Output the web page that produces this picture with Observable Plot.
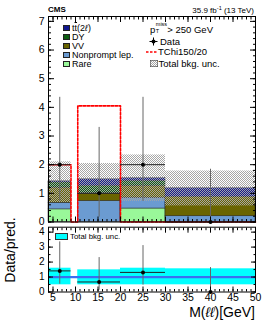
<!DOCTYPE html>
<html><head><meta charset="utf-8">
<script src="https://cdn.jsdelivr.net/npm/d3@7"></script>
<script src="https://cdn.jsdelivr.net/npm/@observablehq/plot@0.6"></script>
<style>
body{margin:0;background:#fff;font-family:"Liberation Sans",Arial,sans-serif;}
#wrap{position:relative;width:266px;height:322px;overflow:hidden;}
#toppanel,#botpanel{position:absolute;left:0;}
#toppanel{top:0px} #botpanel{top:224px}
.t{position:absolute;white-space:nowrap;color:#000;line-height:1;}
.sw{display:inline-block;width:7px;height:6px;border:0.6px solid #222;vertical-align:middle;margin-right:2px;box-sizing:border-box;}
.row{position:absolute;white-space:nowrap;font-size:9px;line-height:1;display:flex;align-items:center;height:9px;}
</style></head><body>
<div id="wrap"><div id="toppanel"></div><div id="botpanel"></div></div>
<script>
// ---- data ----
const binLo = [4, 10.5, 20, 30];
const binHi = [9, 20, 30, 50];
const processes = ["Rare", "Nonprompt lep.", "VV", "DY", "tt(2l)"];
const colors = ["#99f899", "#6b9bd1", "#6a6500", "#0d5e12", "#10178f"];
const rare      = [0.44, 0.00, 0.47, 0.00];
const nonprompt = [0.23, 0.73, 0.38, 0.20];
const vv        = [0.53, 0.27, 0.41, 0.68];
const dy        = [0.18, 0.26, 0.17, 0.00];
const ttbar     = [0.04, 0.23, 0.10, 0.30];
const bkgUncLo  = [0.68, 0.97, 0.72, 0.56];
const bkgUncHi  = [2.10, 2.04, 2.34, 1.78];
const signal    = [2.00, 4.05, 0.00, 0.00];
const dataY     = [2, 1, 2, 0];
const dataLo    = [0.72, 0.17, 0.72, 0.00];
const dataHi    = [4.35, 3.30, 4.35, 1.84];
const ratio     = [1.41, 0.67, 1.31, 0.00];
const ratioLo   = [0.52, 0.12, 0.46, 0.00];
const ratioHi   = [3.35, 2.30, 3.10, 1.63];
const rUncLo    = [0.48, 0.48, 0.48, 0.48];
const rUncHi    = [1.59, 1.48, 1.59, 1.55];
const xTicks    = d3.range(5, 51, 5);
const xMinor    = d3.range(4, 51, 1);
const yTicksTop = d3.range(0, 8, 1);
const yMinorTop = d3.range(0, 7.2, 0.2);
const yTicksBot = d3.range(0, 5, 1);
const yMinorBot = d3.range(0, 4.4, 0.5);

(function () {
// ---- derived tables ----
const series = [rare, nonprompt, vv, dy, ttbar];
const stackRows = [];
binLo.forEach((lo, i) => {
  let acc = 0;
  processes.forEach((p, j) => {
    const v = series[j][i];
    stackRows.push({proc: p, x1: lo, x2: binHi[i], y1: acc, y2: acc + v});
    acc += v;
  });
});
const bins = binLo.map((lo, i) => ({
  x1: lo, x2: binHi[i], xc: (lo + binHi[i]) / 2,
  ulo: bkgUncLo[i], uhi: bkgUncHi[i],
  y: dataY[i], lo: dataLo[i], hi: dataHi[i],
  r: ratio[i], rlo: ratioLo[i], rhi: ratioHi[i],
  rulo: rUncLo[i], ruhi: rUncHi[i]
}));
const sigPts = [];
binLo.forEach((lo, i) => {
  sigPts.push({x: lo, y: signal[i]});
  if (i === binLo.length - 1 || binLo[i + 1] !== binHi[i]) sigPts.push({x: binHi[i], y: 0});
});

const noTxt = () => "";
const intFmt = d3.format("d");
const font = {fontFamily: "Liberation Sans, Arial, sans-serif", fontSize: "10px", background: "transparent", overflow: "visible"};

const topSvg = Plot.plot({
  width: 266, height: 224,
  marginLeft: 48, marginRight: 11, marginTop: 16, marginBottom: 2.5,
  style: font,
  x: {domain: [4, 50], label: null},
  y: {domain: [0, 7.17], label: null},
  color: {domain: processes, range: colors},
  marks: [
    Plot.rect(stackRows, {x1: "x1", x2: "x2", y1: "y1", y2: "y2", fill: "proc", stroke: "#222", strokeWidth: 0.5}),
    Plot.rect(bins, {x1: "x1", x2: "x2", y1: "ulo", y2: "uhi", fill: "url(#hatch)"}),
    Plot.line(sigPts, {x: "x", y: "y", curve: "step-after", stroke: "#ff0000", strokeWidth: 1.6, strokeDasharray: "2.5,1.5"}),
    Plot.ruleX(bins, {x: "xc", y1: "lo", y2: "hi", stroke: "#666", strokeWidth: 1}),
    Plot.ruleY(bins, {y: "y", x1: "x1", x2: "x2", stroke: "#222", strokeWidth: 1}),
    Plot.dot(bins, {x: "xc", y: "y", r: 2, fill: "#000", stroke: "none"}),
    Plot.axisY({anchor: "left", ticks: yTicksTop, tickSize: -6, tickFormat: noTxt}),
    Plot.axisY({anchor: "left", ticks: yMinorTop, tickSize: -3, tickFormat: noTxt}),
    Plot.axisY({anchor: "right", ticks: yTicksTop, tickSize: -6, tickFormat: noTxt}),
    Plot.axisY({anchor: "right", ticks: yMinorTop, tickSize: -3, tickFormat: noTxt}),
    Plot.axisY({anchor: "left", ticks: yTicksTop, tickSize: 0, tickPadding: 4, fontSize: 10.5, tickFormat: intFmt}),
    Plot.axisX({anchor: "bottom", ticks: xTicks, tickSize: -5, tickFormat: noTxt}),
    Plot.axisX({anchor: "bottom", ticks: xMinor, tickSize: -2.5, tickFormat: noTxt}),
    Plot.axisX({anchor: "top", ticks: xTicks, tickSize: -5, tickFormat: noTxt}),
    Plot.axisX({anchor: "top", ticks: xMinor, tickSize: -2.5, tickFormat: noTxt}),
    Plot.frame({stroke: "#000", strokeWidth: 1})
  ]
});
const ns = "http://www.w3.org/2000/svg";
const defs = document.createElementNS(ns, "defs");
defs.innerHTML = '<pattern id="hatch" width="2" height="2" patternUnits="userSpaceOnUse"><rect width="1" height="1" fill="#a6a6a6"/><rect x="1" y="1" width="1" height="1" fill="#a6a6a6"/></pattern>';
topSvg.prepend(defs);
document.getElementById("toppanel").appendChild(topSvg);

const botSvg = Plot.plot({
  width: 266, height: 98,
  marginLeft: 48, marginRight: 11, marginTop: 2.7, marginBottom: 30.5,
  style: font,
  x: {domain: [4, 50], label: null},
  y: {domain: [0, 4.33], label: null},
  marks: [
    Plot.rect(bins, {x1: "x1", x2: "x2", y1: "rulo", y2: "ruhi", fill: "#00ffff"}),
    Plot.ruleY([1], {stroke: "#3a6ff0", strokeWidth: 2.2}),
    Plot.ruleX(bins, {x: "xc", y1: "rlo", y2: "rhi", stroke: "#666", strokeWidth: 1}),
    Plot.ruleY(bins.filter(d => d.r > 0), {y: "r", x1: "x1", x2: "x2", stroke: "#222", strokeWidth: 1}),
    Plot.dot(bins, {x: "xc", y: "r", r: 2, fill: "#000", stroke: "none"}),
    Plot.axisY({anchor: "left", ticks: yTicksBot, tickSize: -5, tickFormat: noTxt}),
    Plot.axisY({anchor: "left", ticks: yMinorBot, tickSize: -2.5, tickFormat: noTxt}),
    Plot.axisY({anchor: "right", ticks: yTicksBot, tickSize: -5, tickFormat: noTxt}),
    Plot.axisY({anchor: "right", ticks: yMinorBot, tickSize: -2.5, tickFormat: noTxt}),
    Plot.axisY({anchor: "left", ticks: yTicksBot, tickSize: 0, tickPadding: 4, fontSize: 10, tickFormat: intFmt}),
    Plot.axisX({anchor: "bottom", ticks: xTicks, tickSize: -5, tickFormat: noTxt}),
    Plot.axisX({anchor: "bottom", ticks: xMinor, tickSize: -2.5, tickFormat: noTxt}),
    Plot.axisX({anchor: "top", ticks: xTicks, tickSize: -5, tickFormat: noTxt}),
    Plot.axisX({anchor: "top", ticks: xMinor, tickSize: -2.5, tickFormat: noTxt}),
    Plot.axisX({anchor: "bottom", ticks: xTicks, tickSize: 0, tickPadding: 1.5, fontSize: 10.5, tickFormat: intFmt}),
    Plot.frame({stroke: "#000", strokeWidth: 1})
  ]
});
document.getElementById("botpanel").appendChild(botSvg);

// ---- text & legends ----
const wrap = document.getElementById("wrap");
function add(html, css) {
  const d = document.createElement("div");
  d.className = "t";
  d.innerHTML = html;
  Object.assign(d.style, css);
  wrap.appendChild(d);
  return d;
}
add("CMS", {left: "48px", top: "6px", fontSize: "8px", fontWeight: "bold"});
add("35.9 fb<sup style='font-size:5.5px;vertical-align:3px'>-1</sup> (13 TeV)", {right: "12px", top: "6px", fontSize: "8px"});

// left legend
const legLabels = ["t<span style='text-decoration:overline'>t</span>(2<i>ℓ</i>)", "DY", "VV", "Nonprompt lep.", "Rare"];
const legColors = [colors[4], colors[3], colors[2], colors[1], colors[0]];
legLabels.forEach((lab, i) => {
  const d = document.createElement("div");
  d.className = "row";
  d.style.left = "63px";
  d.style.top = (23.5 + i * 9) + "px";
  d.innerHTML = `<span class="sw" style="background:${legColors[i]}"></span>${lab}`;
  wrap.appendChild(d);
});

// right legend
add("p<span style='display:inline-block;position:relative;width:12px;height:9px;'><span style='position:absolute;left:0.5px;top:-2.5px;font-size:5.5px'>miss</span><span style='position:absolute;left:0.5px;top:5px;font-size:5.5px'>T</span></span>&gt; 250 GeV",
    {left: "150px", top: "24px", fontSize: "9.5px"});
add("<svg width='9' height='9' style='vertical-align:middle;margin-right:2px'><line x1='0.5' x2='8.5' y1='4.5' y2='4.5' stroke='#000' stroke-width='1'/><line x1='4.5' x2='4.5' y1='0.5' y2='8.5' stroke='#000' stroke-width='1'/><circle cx='4.5' cy='4.5' r='2' fill='#000'/></svg>Data",
    {left: "149px", top: "36.5px", fontSize: "9.5px", display: "flex", alignItems: "center"});
add("<svg width='11' height='4' style='vertical-align:middle;margin-right:1px'><line x1='0' x2='11' y1='2' y2='2' stroke='#f00' stroke-width='1.6' stroke-dasharray='2.5,1.5'/></svg>TChi150/20",
    {left: "146px", top: "47px", fontSize: "9.5px", display: "flex", alignItems: "center"});
add("<svg width='8' height='7' style='vertical-align:middle;margin-right:1px'><rect x='0.3' y='0.3' width='7.4' height='6.4' fill='url(#hatch)' stroke='#444' stroke-width='0.6'/></svg>Total bkg. unc.",
    {left: "149.5px", top: "59px", fontSize: "9.5px", display: "flex", alignItems: "center"});

// ratio legend
add("<span style='display:inline-block;width:13px;height:7px;background:#00ffff;border:0.6px solid #333;box-sizing:border-box;margin-right:2px;vertical-align:middle'></span>Total bkg. unc.",
    {left: "55px", top: "233px", fontSize: "7.8px", display: "flex", alignItems: "center"});

// axis titles
add("Data/pred.", {left: "10px", top: "250px", fontSize: "14px", transform: "translate(-50%,-50%) rotate(-90deg)"});
add("M(<i>ℓℓ</i>)[GeV]", {right: "11px", top: "305px", fontSize: "14px"});
})();
</script>
</body></html>
